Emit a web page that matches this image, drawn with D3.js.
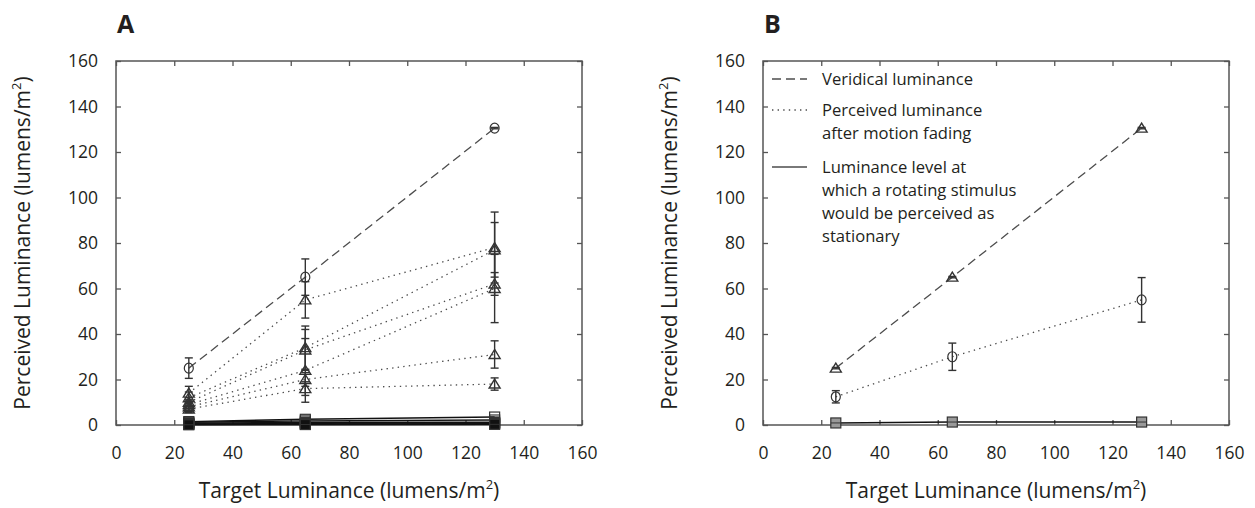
<!DOCTYPE html>
<html><head><meta charset="utf-8">
<script src="https://cdn.jsdelivr.net/npm/d3@7"></script>
<style>
body{margin:0;background:#fff;}
text{font-family:"Open Sans","Noto Sans",sans-serif;fill:#231f20;}
</style></head>
<body>
<svg id="chart" width="1255" height="508"></svg>
<script>
// ---- data ----
const targetLevels = [25, 65, 130];
const xTicks = [0, 20, 40, 60, 80, 100, 120, 140, 160];
const yTicks = [0, 20, 40, 60, 80, 100, 120, 140, 160];

// Panel A
const aVeridical = [25, 65, 130.5];
const aVeridicalErr = [4.5, 8, 0.3];
const aFaded1 = [14, 55, 78];
const aFaded1Err = [3, 8, 15.6];
const aFaded2 = [12, 34, 77];
const aFaded2Err = [2.5, 9.5, 12];
const aFaded3 = [10, 33, 62];
const aFaded3Err = [2, 9, 5];
const aFaded4 = [9, 24, 60];
const aFaded4Err = [2, 14, 15];
const aFaded5 = [8, 20, 31];
const aFaded5Err = [2, 3, 6];
const aFaded6 = [7, 16, 18];
const aFaded6Err = [1.5, 3, 2.7];
const aStat1 = [1.5, 2.5, 3.5];
const aStat2 = [1.2, 1.8, 2.2];
const aStat3 = [0.8, 1.2, 1.2];
const aStat4 = [0.5, 0.7, 0.9];
const aStat5 = [0.3, 0.4, 0.6];
const aStat6 = [0.1, 0.2, 0.3];

// Panel B
const bVeridical = [25, 65, 130.5];
const bVeridicalErr = [0.3, 0.3, 0.3];
const bFaded = [12.4, 30, 55];
const bFadedErr = [2.7, 6, 9.8];
const bStat = [0.9, 1.3, 1.3];
const bStatErr = [0.5, 0.6, 0.5];

const legendItems = [
  {style: "dashed", lines: ["Veridical luminance"]},
  {style: "dotted", lines: ["Perceived luminance", "after motion fading"]},
  {style: "solid", lines: ["Luminance level at", "which a rotating stimulus", "would be perceived as", "stationary"]}
];

// ---- drawing ----
const svg = d3.select("#chart");
const W = 466, H = 364;
const x = d3.scaleLinear().domain([0, 160]).range([0, W]);
const y = d3.scaleLinear().domain([0, 160]).range([H, 0]);
const ink = "#4d4d4d";
const dash = {dashed: "9,5", dotted: "1.4,4.2", solid: null};

function makeSeries(vals, errs, style, marker){
  return {pts: targetLevels.map((t,i)=>({x:t, y:vals[i], e: errs ? errs[i] : 0})), style, marker};
}

function drawPanel(ox, oy, label, series){
  const g = svg.append("g").attr("transform", `translate(${ox},${oy})`);
  g.append("rect").attr("width", W).attr("height", H).attr("fill", "none")
    .attr("stroke", "#555").attr("stroke-width", 1.5);
  const ax = g.append("g").attr("transform", `translate(0,${H})`)
    .call(d3.axisBottom(x).tickValues(xTicks).tickSizeInner(-5).tickSizeOuter(0).tickPadding(22));
  const ay = g.append("g")
    .call(d3.axisLeft(y).tickValues(yTicks).tickSizeInner(-5).tickSizeOuter(0).tickPadding(18));
  const at = g.append("g").call(d3.axisTop(x).tickValues(xTicks).tickSizeInner(-5).tickSizeOuter(0).tickFormat(""));
  const ar = g.append("g").attr("transform", `translate(${W},0)`)
    .call(d3.axisRight(y).tickValues(yTicks).tickSizeInner(-5).tickSizeOuter(0).tickFormat(""));
  [ax, ay, at, ar].forEach(a => {
    a.select(".domain").remove();
    a.selectAll("line").attr("stroke", "#555").attr("stroke-width", 1.3);
    a.selectAll("text").style("font-size", "17.5px").attr("fill", "#231f20")
      .style("font-family", '"Open Sans","Noto Sans",sans-serif');
  });
  svg.append("text").attr("x", ox + 1).attr("y", oy - 28)
    .style("font-size", "25px").style("font-weight", "bold").text(label);
  const xt = svg.append("text").attr("x", ox + W/2).attr("y", oy + H + 73)
    .attr("text-anchor", "middle").style("font-size", "21px");
  xt.append("tspan").text("Target Luminance (lumens/m");
  xt.append("tspan").attr("dy", -9).style("font-size", "13px").text("2");
  xt.append("tspan").attr("dy", 9).text(")");
  const yt = svg.append("text")
    .attr("transform", `translate(${ox - 93},${oy + H/2}) rotate(-90)`)
    .attr("text-anchor", "middle").attr("dy", "0.35em").style("font-size", "21px");
  yt.append("tspan").text("Perceived Luminance (lumens/m");
  yt.append("tspan").attr("dy", -9).style("font-size", "13px").text("2");
  yt.append("tspan").attr("dy", 9).text(")");

  const line = d3.line().x(d => x(d.x)).y(d => y(d.y));
  series.forEach(s => {
    g.append("path").datum(s.pts).attr("d", line).attr("fill", "none")
      .attr("stroke", s.style === "solid" ? "#111" : ink)
      .attr("stroke-width", s.style === "solid" ? 1.4 : 1.3)
      .attr("stroke-dasharray", dash[s.style]);
  });
  series.forEach(s => {
    s.pts.forEach(p => {
      if (p.e > 0){
        const cx = x(p.x), y1 = y(p.y + p.e), y2 = y(p.y - p.e);
        g.append("line").attr("x1", cx).attr("x2", cx).attr("y1", y1).attr("y2", y2)
          .attr("stroke", "#333").attr("stroke-width", 1.4);
        [y1, y2].forEach(yy => g.append("line").attr("x1", cx-4).attr("x2", cx+4)
          .attr("y1", yy).attr("y2", yy).attr("stroke", "#333").attr("stroke-width", 1.4));
      }
      const cx = x(p.x), cy = y(p.y);
      if (s.marker === "circle"){
        g.append("ellipse").attr("cx", cx).attr("cy", cy).attr("rx", 4.5).attr("ry", 5)
          .attr("fill", "none").attr("stroke", "#333").attr("stroke-width", 1.2);
      } else if (s.marker === "triangle"){
        g.append("path").attr("d", `M${cx},${cy-5} L${cx+5.5},${cy+4} L${cx-5.5},${cy+4} Z`)
          .attr("fill", "none").attr("stroke", "#333").attr("stroke-width", 1.4);
      } else if (s.marker === "square"){
        g.append("rect").attr("x", cx-5).attr("y", cy-5).attr("width", 10).attr("height", 10)
          .attr("fill", s.fill || "none").attr("stroke", "#333").attr("stroke-width", 1.2);
        g.append("line").attr("x1", cx-5).attr("x2", cx+5).attr("y1", cy).attr("y2", cy)
          .attr("stroke", "#333").attr("stroke-width", 1);
      }
    });
  });
  return g;
}

drawPanel(116, 61, "A", [
  makeSeries(aVeridical, aVeridicalErr, "dashed", "circle"),
  makeSeries(aFaded1, aFaded1Err, "dotted", "triangle"),
  makeSeries(aFaded2, aFaded2Err, "dotted", "triangle"),
  makeSeries(aFaded3, aFaded3Err, "dotted", "triangle"),
  makeSeries(aFaded4, aFaded4Err, "dotted", "triangle"),
  makeSeries(aFaded5, aFaded5Err, "dotted", "triangle"),
  makeSeries(aFaded6, aFaded6Err, "dotted", "triangle"),
  Object.assign(makeSeries(aStat1, null, "solid", "square"), {fill: "none"}),
  Object.assign(makeSeries(aStat2, null, "solid", "square"), {fill: "none"}),
  Object.assign(makeSeries(aStat3, null, "solid", "square"), {fill: "#111"}),
  Object.assign(makeSeries(aStat4, null, "solid", "square"), {fill: "#111"}),
  Object.assign(makeSeries(aStat5, null, "solid", "square"), {fill: "#111"}),
  Object.assign(makeSeries(aStat6, null, "solid", "square"), {fill: "#111"})
]);

const gB = drawPanel(763, 61, "B", [
  makeSeries(bVeridical, bVeridicalErr, "dashed", "triangle"),
  makeSeries(bFaded, bFadedErr, "dotted", "circle"),
  Object.assign(makeSeries(bStat, bStatErr, "solid", "square"), {fill: "#999"})
]);

// legend
const legendGaps = [8, 11, 0];
let ly = 18;
legendItems.forEach((item, k) => {
  gB.append("line").attr("x1", 9).attr("x2", 44).attr("y1", ly).attr("y2", ly)
    .attr("stroke", ink).attr("stroke-width", 1.3).attr("stroke-dasharray", dash[item.style]);
  item.lines.forEach((t, i) => {
    gB.append("text").attr("x", 59).attr("y", ly + i*23).attr("dy", "0.35em")
      .style("font-size", "16.6px").text(t);
  });
  ly += item.lines.length * 23 + legendGaps[k];
});
</script>
</body></html>
